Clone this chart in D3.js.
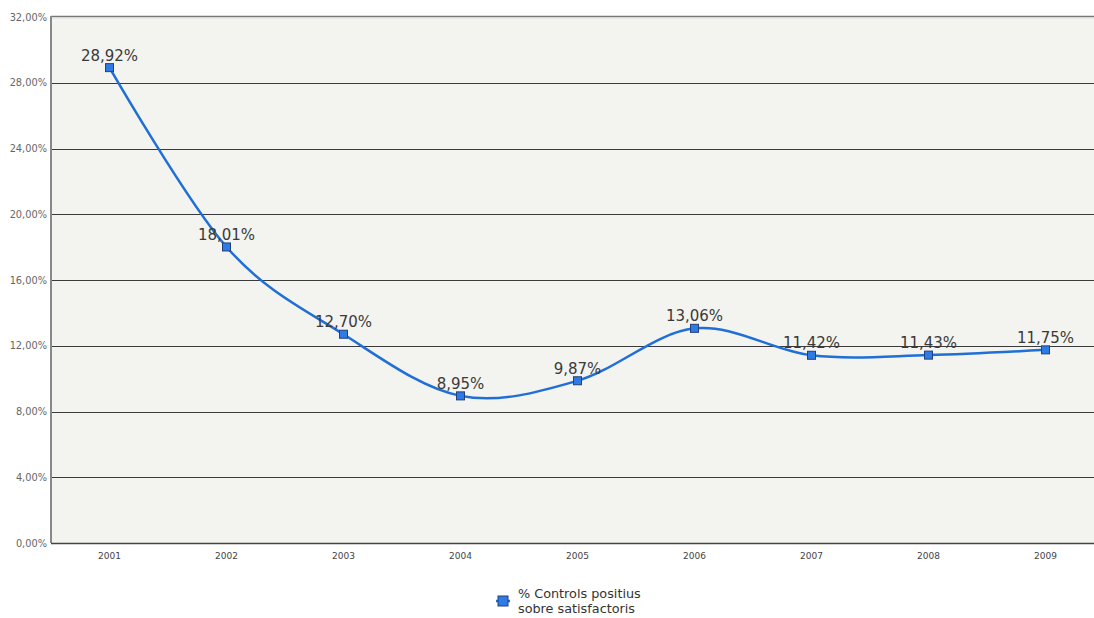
<!DOCTYPE html>
<html><head><meta charset="utf-8">
<script src="https://cdn.jsdelivr.net/npm/d3@7"></script>
<style>body{margin:0;background:#fff}svg{display:block}</style>
</head><body>
<script>
const years = ["2001","2002","2003","2004","2005","2006","2007","2008","2009"];
const values = [28.92, 18.01, 12.70, 8.95, 9.87, 13.06, 11.42, 11.43, 11.75];
const yTicks = [0, 4, 8, 12, 16, 20, 24, 28, 32];
const seriesName = ["% Controls positius", "sobre satisfactoris"];

const W = 1094, H = 618;
const mLeft = 51, mTop = 17, mBottom = 543, mRight = 1104;
const svg = d3.select("body").append("svg").attr("width", W).attr("height", H);
const fmt = v => v.toFixed(2).replace(".", ",") + "%";

const x = d3.scaleBand().domain(years).range([mLeft, mRight]);
const y = d3.scaleLinear().domain([0, 32]).range([mBottom, mTop]);

svg.append("rect").attr("x", mLeft).attr("y", mTop).attr("width", W - mLeft).attr("height", mBottom - mTop).attr("fill", "#f3f3ef");

// gridlines
svg.append("g").selectAll("line").data(yTicks.filter(t => t > 0 && t < 32)).join("line")
  .attr("x1", mLeft).attr("x2", W).attr("y1", d => Math.round(y(d)) + 0.5).attr("y2", d => Math.round(y(d)) + 0.5)
  .attr("stroke", "#3a3a3a").attr("stroke-width", 1);
// top border
svg.append("line").attr("x1", mLeft).attr("x2", W).attr("y1", mTop - 0.5).attr("y2", mTop - 0.5).attr("stroke", "#777").attr("stroke-width", 1.5);
svg.append("line").attr("x1", mLeft).attr("x2", W).attr("y1", mTop + 1).attr("y2", mTop + 1).attr("stroke", "#ddd").attr("stroke-width", 1);
// left axis
svg.append("line").attr("x1", mLeft).attr("x2", mLeft).attr("y1", mTop - 1).attr("y2", mBottom).attr("stroke", "#888").attr("stroke-width", 2);
// bottom axis
svg.append("line").attr("x1", mLeft).attr("x2", W).attr("y1", mBottom + 0.5).attr("y2", mBottom + 0.5).attr("stroke", "#444").attr("stroke-width", 1.5);

// y labels
const yAxis = d3.axisLeft(y).tickValues(yTicks).tickFormat(fmt).tickSize(0).tickPadding(4);
const gy = svg.append("g").attr("transform", `translate(${mLeft},0)`).call(yAxis);
gy.select(".domain").remove();
gy.selectAll("text").attr("font-family", "Tahoma, 'DejaVu Sans', sans-serif").attr("font-size", 9.8).attr("fill", "#666");

// x labels
const xAxis = d3.axisBottom(x).tickSize(0).tickPadding(10);
const gx = svg.append("g").attr("transform", `translate(0,${mBottom})`).call(xAxis);
gx.select(".domain").remove();
gx.selectAll("text").attr("font-family", "Tahoma, 'DejaVu Sans', sans-serif").attr("font-size", 9).attr("fill", "#444");

const cx = d => x(d) + x.bandwidth() / 2;
const pts = years.map((yr, i) => [cx(yr), y(values[i])]);

const line = d3.line().curve(d3.curveCatmullRom.alpha(0));
svg.append("path").attr("d", line(pts)).attr("fill", "none").attr("stroke", "#1f6fd6").attr("stroke-width", 2.5);

svg.append("g").selectAll("rect").data(pts).join("rect")
  .attr("x", d => d[0] - 4).attr("y", d => d[1] - 4).attr("width", 8).attr("height", 8)
  .attr("fill", "#2f7be6").attr("stroke", "#23407a").attr("stroke-width", 1);

svg.append("g").selectAll("text").data(years).join("text")
  .attr("x", d => cx(d)).attr("y", (d, i) => y(values[i]) - 7)
  .attr("text-anchor", "middle").attr("font-family", "Tahoma, 'DejaVu Sans', sans-serif").attr("font-size", 15).attr("fill", "#3a3a3a")
  .text((d, i) => fmt(values[i]));

// legend
const lg = svg.append("g").attr("transform", "translate(503,601)");
lg.append("line").attr("x1", -7).attr("x2", 7).attr("y1", 0).attr("y2", 0).attr("stroke", "#1f6fd6").attr("stroke-width", 2.5);
lg.append("rect").attr("x", -5).attr("y", -5).attr("width", 10).attr("height", 10).attr("fill", "#2f7be6").attr("stroke", "#23407a");
lg.selectAll("text").data(seriesName).join("text")
  .attr("x", 15).attr("y", (d, i) => -3 + i * 15)
  .attr("font-family", "Tahoma, 'DejaVu Sans', sans-serif").attr("font-size", 12.8).attr("fill", "#333").text(d => d);
</script>
</body></html>
